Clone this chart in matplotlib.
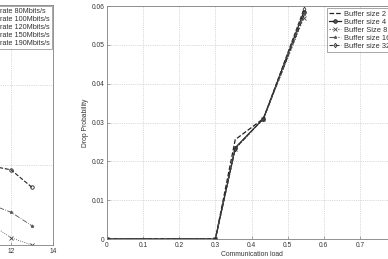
import matplotlib
matplotlib.use("Agg")
import matplotlib.pyplot as plt
from matplotlib.ticker import FuncFormatter

plt.rcParams['font.family'] = ['Liberation Sans', 'DejaVu Sans']
plt.rcParams['font.size'] = 4.8

# left panel (only partly visible in the crop)
rate_x = [9, 10, 11, 12, 13]
rate_x_short = [9, 10, 11]
rate_80 = [1.6, 1.3, 0.99, 0.94, 0.72]
rate_100 = [1.1, 0.8, 0.51, 0.41, 0.24]
rate_120 = [0.7, 0.5, 0.27, 0.09, 0.0]
rate_150 = [0.3, 0.15, 0.05]
rate_190 = [0.1, 0.03, 0.0]
rate_labels = ["rate 80Mbits/s", "rate 100Mbits/s", "rate 120Mbits/s",
               "rate 150Mbits/s", "rate 190Mbits/s"]

# right panel
load = [0, 0.3, 0.355, 0.433, 0.545]
buf_2 = [0, 0, 0.0256, 0.031, 0.0575]
buf_4 = [0, 0, 0.0235, 0.031, 0.0585]
buf_8 = [0, 0, 0.0232, 0.031, 0.0570]
buf_16 = [0, 0, 0.0234, 0.031, 0.0580]
buf_32 = [0, 0, 0.0233, 0.031, 0.0592]
buf_labels = ["Buffer size 2", "Buffer size 4", "Buffer Size 8",
              "Buffer size 16", "Buffer size 32"]

W, H = 388, 259
fig = plt.figure(figsize=(W / 100, H / 100), dpi=100)
fig.patch.set_facecolor("white")

line_c = "#222222"
grid_c = "#b8b8b8"
spine_c = "#808080"
text_c = "#333333"


def style(ax):
    for s in ax.spines.values():
        s.set_color(spine_c)
        s.set_linewidth(0.6)
    ax.tick_params(direction="in", length=2, width=0.5, colors=spine_c,
                   labelcolor=text_c, labelsize=4.8, pad=2)
    ax.grid(True, linestyle=":", linewidth=0.5, color=grid_c)
    ax.set_axisbelow(True)


def legend_style(leg):
    leg.get_frame().set_edgecolor(spine_c)
    leg.get_frame().set_linewidth(0.6)
    for t in leg.get_texts():
        t.set_color(text_c)


fmt = FuncFormatter(lambda v, p: f"{v:g}")

# ---- left axes (mostly outside the figure) ----
ax1 = fig.add_axes([-157 / W, (H - 245) / H, 210 / W, 240 / H])
ax1.plot(rate_x, rate_80, "--", marker="o", color=line_c, lw=0.8, ms=2.5,
         mfc="none", mew=0.6, label=rate_labels[0])
ax1.plot(rate_x, rate_100, "-.", marker="*", color="#555555", lw=0.6, ms=2.5,
         mew=0.5, label=rate_labels[1])
ax1.plot(rate_x, rate_120, ":", marker="x", color="#444444", lw=0.6, ms=2.2,
         mew=0.6, label=rate_labels[2])
ax1.plot(rate_x_short, rate_150, "-", marker="s", color="#666666", lw=0.6,
         ms=2, mfc="none", label=rate_labels[3])
ax1.plot(rate_x_short, rate_190, "--", marker="d", color="#777777", lw=0.6,
         ms=2, mfc="none", label=rate_labels[4])
ax1.set_xlim(4, 14)
ax1.set_ylim(0, 3)
ax1.set_xticks([12, 14])
ax1.set_yticks([0, 1, 2, 3])
ax1.set_yticklabels([])
ax1.xaxis.set_major_formatter(fmt)
style(ax1)
leg1 = ax1.legend(loc="upper right", fontsize=5.2, frameon=True, fancybox=False,
                  borderaxespad=0.15, borderpad=0.3, labelspacing=0.12,
                  handlelength=1.6, handletextpad=0.4)
legend_style(leg1)

# ---- right axes ----
ax2 = fig.add_axes([107 / W, (H - 239) / H, (396 - 107) / W, (239 - 6) / H])
ax2.plot(load, buf_2, "--", color=line_c, lw=0.9, label=buf_labels[0])
ax2.plot(load, buf_4, "-", marker="o", color=line_c, lw=0.9, ms=2.6,
         mfc="#555555", mew=0.6, label=buf_labels[1])
ax2.plot(load, buf_8, ":", marker="x", color="#444444", lw=0.8, ms=2.2,
         mew=0.6, label=buf_labels[2])
ax2.plot(load, buf_16, "-.", marker="*", color="#555555", lw=0.8, ms=2.4,
         mew=0.5, label=buf_labels[3])
ax2.plot(load, buf_32, "--", marker="d", color="#333333", lw=0.8, ms=2.4,
         mfc="none", mew=0.6, label=buf_labels[4])
ax2.set_xlim(0, 0.8)
ax2.set_ylim(0, 0.06)
ax2.set_xticks([0, 0.1, 0.2, 0.3, 0.4, 0.5, 0.6, 0.7])
ax2.set_yticks([0, 0.01, 0.02, 0.03, 0.04, 0.05, 0.06])
ax2.xaxis.set_major_formatter(fmt)
ax2.yaxis.set_major_formatter(fmt)
style(ax2)
ax2.set_xlabel("Communication load", fontsize=4.9, color=text_c, labelpad=1.5)
ax2.set_ylabel("Drop Probability", fontsize=4.9, color=text_c, labelpad=1.5)
leg2 = ax2.legend(loc="upper left", bbox_to_anchor=(327 / W, 1 - 8 / H),
                  bbox_transform=fig.transFigure, fontsize=5.4, frameon=True,
                  fancybox=False, borderaxespad=0, borderpad=0.3,
                  labelspacing=0.1, handlelength=1.6, handletextpad=0.4)
legend_style(leg2)

fig.savefig("out.png", dpi=100, facecolor="white")
